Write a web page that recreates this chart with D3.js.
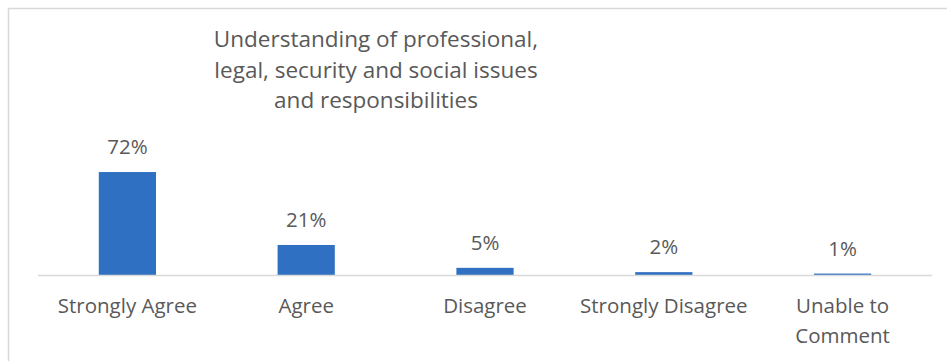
<!DOCTYPE html>
<html>
<head>
<meta charset="utf-8">
<script src="https://cdn.jsdelivr.net/npm/d3@7"></script>
<style>
  body { margin: 0; background: #fff; }
  svg text { font-family: "Open Sans", sans-serif; fill: #595959; }
</style>
</head>
<body>
<svg id="chart" width="947" height="361"></svg>
<script>
const categories = ["Strongly Agree", "Agree", "Disagree", "Strongly Disagree", "Unable to Comment"];
const values = [72, 21, 5, 2, 1];
const titleLines = [
  "Understanding of professional,",
  "legal, security and social issues",
  "and responsibilities"
];

const width = 947;
const height = 361;
const plot = { left: 38, right: 932, base: 275 };

const svg = d3.select("#chart");

// outer chart border (runs off the right/bottom edge)
svg.append("rect")
  .attr("x", 8.5).attr("y", 8.5)
  .attr("width", 960).attr("height", 380)
  .attr("fill", "none")
  .attr("stroke", "#d9d9d9")
  .attr("stroke-width", 1.5);

const x = d3.scaleBand()
  .domain(categories)
  .range([plot.left, plot.right])
  .paddingInner(0.68)
  .paddingOuter(0.34);

const y = d3.scaleLinear()
  .domain([0, 80])
  .range([plot.base, plot.base - 80 * 1.43]);

// title
svg.append("text")
  .attr("text-anchor", "middle")
  .style("font-size", "22.5px")
  .selectAll("tspan")
  .data(titleLines)
  .join("tspan")
  .attr("x", 376)
  .attr("y", (d, i) => 47 + i * 30.5)
  .text(d => d);

// bars
svg.append("g")
  .selectAll("rect")
  .data(values)
  .join("rect")
  .attr("x", (d, i) => x(categories[i]))
  .attr("y", d => y(d))
  .attr("width", x.bandwidth())
  .attr("height", d => y(0) - y(d))
  .attr("fill", "#3070c2");

// baseline
svg.append("line")
  .attr("x1", plot.left).attr("x2", plot.right)
  .attr("y1", plot.base + 0.5).attr("y2", plot.base + 0.5)
  .attr("stroke", "#d9d9d9")
  .attr("stroke-width", 1.5);

// value labels
svg.append("g")
  .selectAll("text")
  .data(values)
  .join("text")
  .attr("x", (d, i) => x(categories[i]) + x.bandwidth() / 2)
  .attr("y", d => y(d) - 18)
  .attr("text-anchor", "middle")
  .style("font-size", "20.5px")
  .text(d => d + "%");

// category labels (wrapped like the original)
const axis = d3.axisBottom(x).tickSize(0).tickPadding(0);
const ag = svg.append("g")
  .attr("transform", `translate(0,${plot.base})`)
  .call(axis);
ag.select(".domain").remove();
ag.selectAll(".tick text").remove();
ag.selectAll(".tick").each(function (d) {
  const lines = d === "Unable to Comment" ? ["Unable to", "Comment"] : [d];
  const t = d3.select(this).append("text")
    .attr("text-anchor", "middle")
    .style("font-size", "20.5px");
  lines.forEach((l, i) => {
    t.append("tspan").attr("x", 0).attr("y", 38 + i * 30).text(l);
  });
});
</script>
</body>
</html>
